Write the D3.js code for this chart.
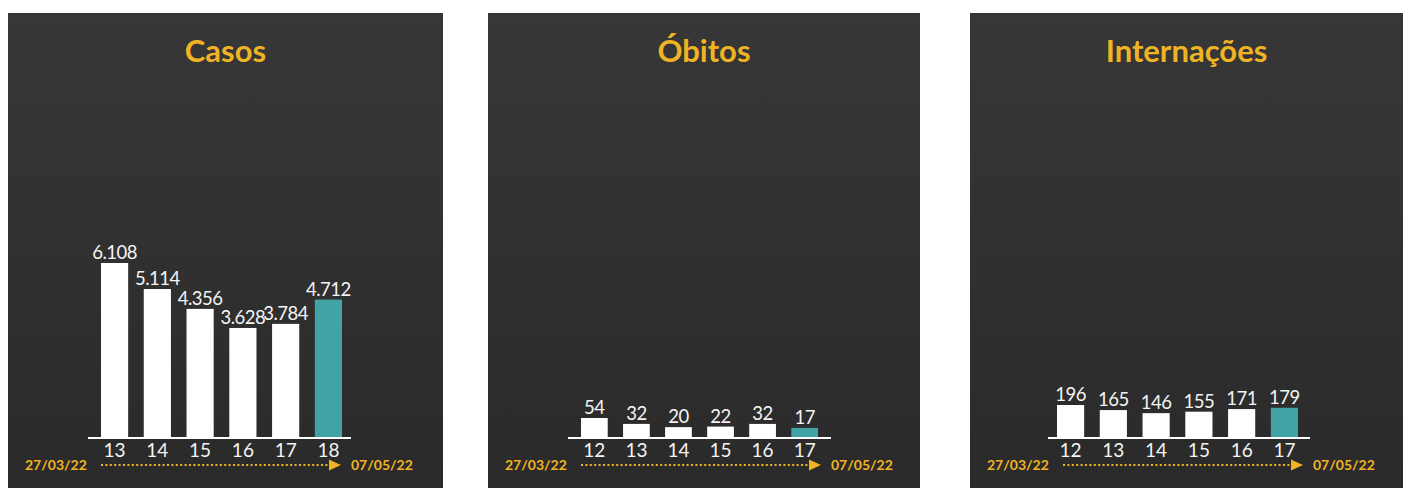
<!DOCTYPE html>
<html><head><meta charset="utf-8">
<script src="https://cdn.jsdelivr.net/npm/d3@7"></script>
<style>
html,body{margin:0;padding:0;background:#fff;}
svg{display:block;}
</style></head>
<body>
<svg id="chart" width="1408" height="488"></svg>
<script>
// ---- data ----
const panelTitles = ["Casos", "Óbitos", "Internações"];
const casosWeeks = ["13", "14", "15", "16", "17", "18"];
const casosValues = [6108, 5114, 4356, 3628, 3784, 4712];
const obitosWeeks = ["12", "13", "14", "15", "16", "17"];
const obitosValues = [54, 32, 20, 22, 32, 17];
const internWeeks = ["12", "13", "14", "15", "16", "17"];
const internValues = [196, 165, 146, 155, 171, 179];
const startDate = "27/03/22";
const endDate = "07/05/22";

// ---- layout ----
const panels = [
  {title: panelTitles[0], weeks: casosWeeks, values: casosValues, x0: 8, w: 435, bars: [93, 334], axis: [80, 343], floor: 14, top: 174},
  {title: panelTitles[1], weeks: obitosWeeks, values: obitosValues, x0: 488, w: 432, bars: [93, 330], axis: [80, 343], floor: 4.5, top: 19},
  {title: panelTitles[2], weeks: internWeeks, values: internValues, x0: 970, w: 433, bars: [87, 328], axis: [78, 340], floor: 0, top: 32}
];
const ORANGE = "#f0b323", TEAL = "#41a3a5", WHITE = "#ffffff";
const baseline = 437;
const fmt = d3.formatLocale({decimal: ",", thousands: ".", grouping: [3], currency: ["R$", ""]}).format(",d");

const svg = d3.select("#chart");
const defs = svg.append("defs");
const grad = defs.append("linearGradient").attr("id", "bg").attr("x1", 0).attr("y1", 0).attr("x2", 0).attr("y2", 1);
grad.append("stop").attr("offset", "0%").attr("stop-color", "#373737");
grad.append("stop").attr("offset", "100%").attr("stop-color", "#2a2a2a");

panels.forEach((p) => {
  const g = svg.append("g").attr("transform", `translate(${p.x0},0)`);
  g.append("rect").attr("x", 0).attr("y", 13).attr("width", p.w).attr("height", 488 - 13).attr("fill", "url(#bg)");

  g.append("text").attr("x", p.w / 2).attr("y", 62).attr("text-anchor", "middle")
    .attr("font-family", "Lato, 'Noto Sans', sans-serif").attr("font-weight", 700).attr("font-size", 31)
    .attr("fill", ORANGE).text(p.title);

  const x = d3.scaleBand().domain(p.weeks).range(p.bars).paddingInner(0.365).paddingOuter(0);
  const max = d3.max(p.values);
  const y = d3.scaleLinear().domain([0, max]).range([baseline - p.floor, baseline - p.top]);

  const n = p.values.length;
  g.selectAll("rect.bar").data(p.values).join("rect").attr("class", "bar")
    .attr("x", (d, i) => x(p.weeks[i]))
    .attr("width", x.bandwidth())
    .attr("y", d => y(d))
    .attr("height", d => baseline - y(d))
    .attr("fill", (d, i) => i === n - 1 ? TEAL : WHITE);

  g.selectAll("text.val").data(p.values).join("text").attr("class", "val")
    .attr("x", (d, i) => x(p.weeks[i]) + x.bandwidth() / 2)
    .attr("y", d => y(d) - 4)
    .attr("text-anchor", "middle")
    .attr("font-family", "Lato, 'Noto Sans', sans-serif").attr("font-size", 18.5)
    .attr("letter-spacing", "-0.5px")
    .attr("fill", "#f4f4f4").text(d => fmt(d));

  // axis baseline
  const axis = g.append("g").attr("transform", `translate(0,${baseline + 1})`)
    .call(d3.axisBottom(x).tickSize(0).tickPadding(5));
  axis.select(".domain").remove();
  axis.append("line").attr("x1", p.axis[0]).attr("x2", p.axis[1]).attr("y1", 0).attr("y2", 0)
    .attr("stroke", WHITE).attr("stroke-width", 2.2);
  axis.selectAll(".tick text").attr("font-family", "Lato, 'Noto Sans', sans-serif")
    .attr("font-size", 19).attr("fill", "#f4f4f4");

  // date range
  g.append("text").attr("x", 17).attr("y", 470)
    .attr("font-family", "Lato, 'Noto Sans', sans-serif").attr("font-weight", 700).attr("font-size", 14)
    .attr("fill", ORANGE).text(startDate);
  g.append("text").attr("x", 343).attr("y", 470)
    .attr("font-family", "Lato, 'Noto Sans', sans-serif").attr("font-weight", 700).attr("font-size", 14)
    .attr("fill", ORANGE).text(endDate);
  g.append("line").attr("x1", 93).attr("x2", 321).attr("y1", 465).attr("y2", 465)
    .attr("stroke", ORANGE).attr("stroke-width", 2.2).attr("stroke-dasharray", "2,2.4");
  g.append("path").attr("d", "M321,459.5 L333,465 L321,470.5 Z").attr("fill", ORANGE);
});
</script>
</body></html>
